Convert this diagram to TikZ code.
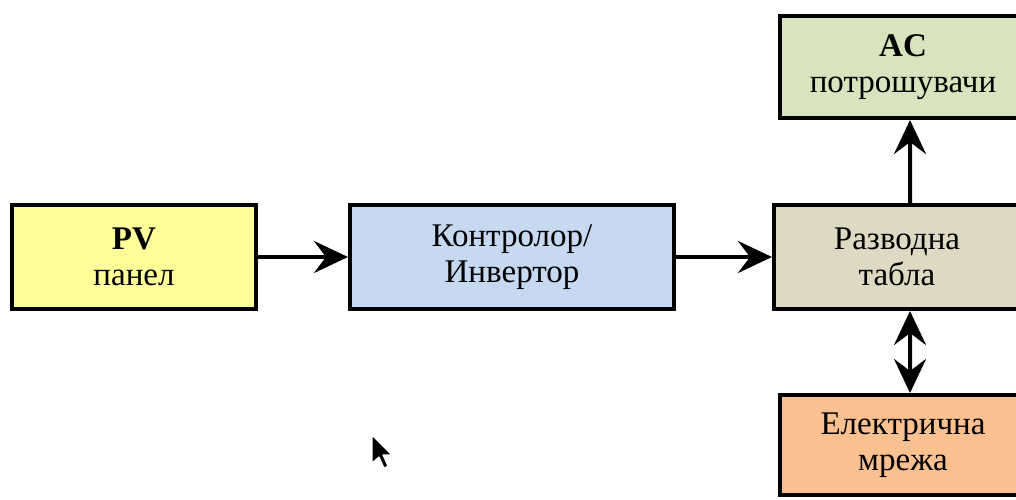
\documentclass[tikz,border=0pt]{standalone}
\usepackage{fontspec}
\setmainfont{Liberation Serif}
\usetikzlibrary{arrows.meta,shadows}
\definecolor{pvyellow}{HTML}{FFFF99}
\definecolor{ctrlblue}{HTML}{C6D9F1}
\definecolor{boardbeige}{HTML}{DDD9C3}
\definecolor{acgreen}{HTML}{D7E4BD}
\definecolor{gridorange}{HTML}{FAC090}
\definecolor{shadowolive}{HTML}{6B6630}
\tikzset{
  blockbox/.style={draw=black, line width=0.1cm, minimum width=6.15cm, minimum height=2.6cm,
    align=center, font=\fontsize{23.5}{25.5}\selectfont, inner sep=0pt,
    drop shadow={shadow xshift=0pt, shadow yshift=-0.06cm, fill=shadowolive, opacity=1}},
  flow/.style={line width=0.1cm, -{Stealth[length=0.85cm, width=0.8cm, inset=0.3cm]}},
  flowboth/.style={line width=0.1cm, {Stealth[length=0.85cm, width=0.8cm, inset=0.3cm]}-{Stealth[length=0.85cm, width=0.8cm, inset=0.3cm]}}
}
\begin{document}
\begin{tikzpicture}[x=0.025cm, y=-0.025cm]
        % area
        \useasboundingbox[fill=white] (0,0) rectangle (1016,499);
        \clip (0,0) rectangle (1016,499);

        % blocchi
        \node[blockbox, fill=pvyellow, minimum width=6.1cm] (pv) at (134,257) {\textbf{PV}\\панел};
        \node[blockbox, fill=ctrlblue, minimum width=8.1cm] (ctrl) at (512,257) {Контролор/\\Инвертор};
        \node[blockbox, fill=boardbeige] (board) at (897,257) {Разводна\\табла};
        \node[blockbox, fill=acgreen, minimum height=2.55cm] (ac) at (903,67) {\textbf{AC}\\потрошувачи};
        \node[blockbox, fill=gridorange, minimum height=2.5cm] (grid) at (903,445) {Електрична\\мрежа};

        % frecce
        \draw[flow] (pv.east) -- (ctrl.west);
        \draw[flow] (ctrl.east) -- (board.west);
        \draw[flow] ([xshift=0.325cm]board.north) -- ([xshift=0.175cm]ac.south);
        \draw[flowboth] ([xshift=0.325cm]board.south) -- ([xshift=0.175cm]grid.north);

        % cursore
        \draw[fill=black, draw=white, line width=0.8pt, line join=round]
          (372,435) -- (372,463) -- (379,457) -- (384,468) -- (388,466) -- (383,455) -- (392,455) -- cycle;
    \end{tikzpicture}
\end{document}
